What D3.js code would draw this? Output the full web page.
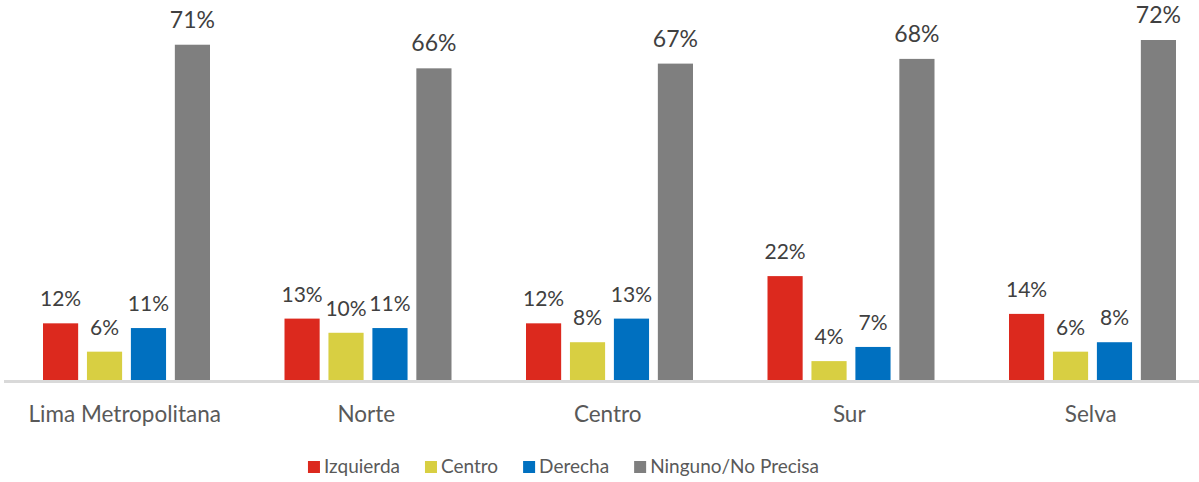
<!DOCTYPE html>
<html>
<head>
<meta charset="utf-8">
<script src="https://cdn.jsdelivr.net/npm/d3@7"></script>
<style>
  body { margin: 0; background: #fff; }
  svg { display: block; font-family: Lato, 'Open Sans', sans-serif; }
</style>
</head>
<body>
<div id="chart"></div>
<script>
// data
const regions = ['Lima Metropolitana', 'Norte', 'Centro', 'Sur', 'Selva'];
const series = ['Izquierda', 'Centro', 'Derecha', 'Ninguno/No Precisa'];
const izquierda = [12, 13, 12, 22, 14];
const centro = [6, 10, 8, 4, 6];
const derecha = [11, 11, 13, 7, 8];
const ninguno = [71, 66, 67, 68, 72];
const colors = ['#DC291E', '#D8CF42', '#0070C0', '#7F7F7F'];

const values = [izquierda, centro, derecha, ninguno];

const width = 1199;
const height = 482;

const svg = d3.select('#chart')
  .append('svg')
  .attr('width', width)
  .attr('height', height);

// scales
const x0 = d3.scaleBand()
  .domain(regions)
  .range([4, 1211.5]);

const x1 = d3.scaleBand()
  .domain(series)
  .range([39, 206])
  .paddingInner(0.2);

const y = d3.scaleLinear()
  .domain([0, 72])
  .range([380, 40]);

const rows = [];
regions.forEach((r, i) => {
  series.forEach((s, j) => {
    rows.push({ region: r, serie: s, idx: j, value: values[j][i] });
  });
});

// bars
svg.append('g')
  .selectAll('rect')
  .data(rows)
  .join('rect')
  .attr('x', d => x0(d.region) + x1(d.serie))
  .attr('y', d => y(d.value))
  .attr('width', x1.bandwidth())
  .attr('height', d => y(0) - y(d.value))
  .attr('fill', d => colors[d.idx]);

// value labels
svg.append('g')
  .selectAll('text')
  .data(rows)
  .join('text')
  .attr('x', d => x0(d.region) + x1(d.serie) + x1.bandwidth() / 2)
  .attr('y', d => y(d.value) - 17)
  .attr('text-anchor', 'middle')
  .style('font-size', d => d.idx === 3 ? '23px' : '21px')
  .style('fill', '#404040')
  .text(d => d.value + '%');

// axis line
svg.append('line')
  .attr('x1', 4)
  .attr('x2', width)
  .attr('y1', 381.5)
  .attr('y2', 381.5)
  .attr('stroke', '#d9d9d9')
  .attr('stroke-width', 3);

// category labels
svg.append('g')
  .selectAll('text')
  .data(regions)
  .join('text')
  .attr('x', d => x0(d) + x0.bandwidth() / 2)
  .attr('y', 422)
  .attr('text-anchor', 'middle')
  .style('font-size', '22.5px')
  .style('fill', '#595959')
  .text(d => d);

// legend
const legend = svg.append('g');
const items = legend.selectAll('g')
  .data(series)
  .join('g');

items.append('rect')
  .attr('width', 12)
  .attr('height', 12)
  .attr('y', 461)
  .attr('fill', (d, i) => colors[i]);

items.append('text')
  .attr('x', 16)
  .attr('y', 473)
  .style('font-size', '19px')
  .style('fill', '#595959')
  .text(d => d);

let pos = 0;
const offsets = [];
items.each(function () {
  offsets.push(pos);
  const w = 16 + d3.select(this).select('text').node().getComputedTextLength();
  pos += w + 25;
});
const total = pos - 25;
const start = 563.5 - total / 2;
items.attr('transform', (d, i) => `translate(${start + offsets[i]},0)`);
</script>
</body>
</html>
